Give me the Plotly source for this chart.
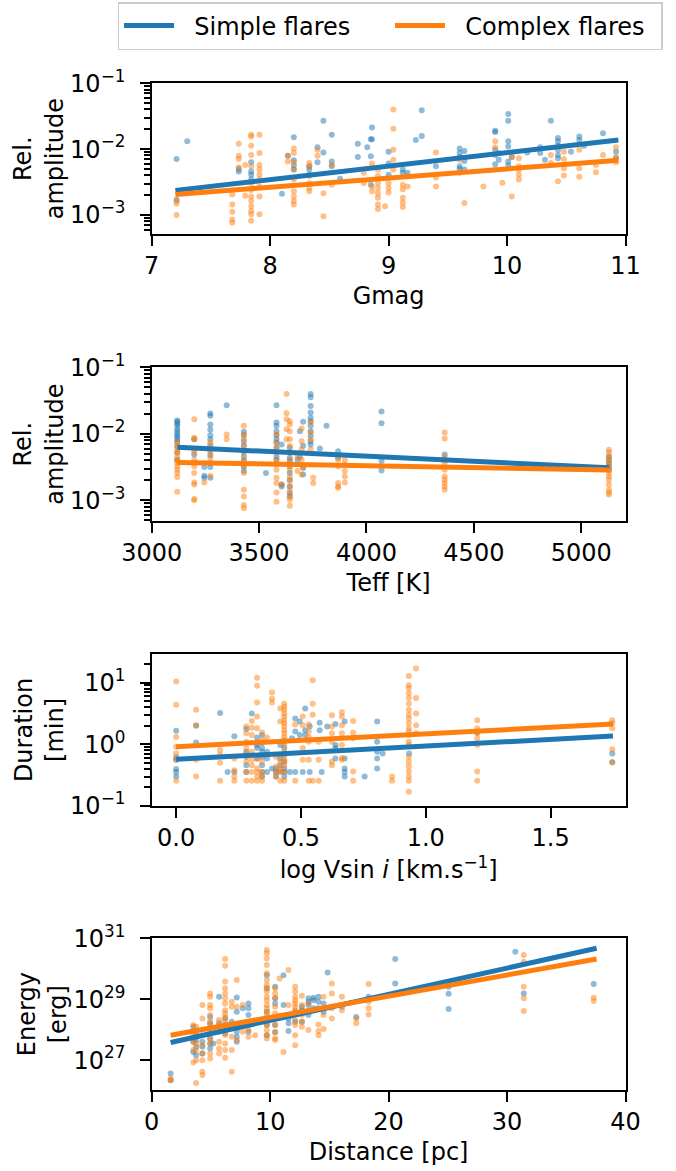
import plotly.graph_objects as go

# ---------------- DATA ----------------
# Panel 1: Gmag vs log10(relative amplitude)
simple_gmag_groups = [
    (7.21, [-2.15, -2.77]), (7.30, [-1.88]), (7.735, [-2.30, -2.34]),
    (7.84, [-2.20, -2.34, -2.39, -2.46]), (8.10, [-2.68]), (8.15, [-2.10]),
    (8.20, [-1.82, -2.17, -2.25, -2.31]), (8.33, [-2.26, -2.31, -2.39]),
    (8.40, [-1.97, -2.20]), (8.45, [-1.57, -2.05]), (8.52, [-1.78, -2.19, -2.26]),
    (8.59, [-2.45]), (8.74, [-1.92, -2.12]), (8.82, [-1.97]),
    (8.85, [-2.11, -1.85, -2.54]), (8.86, [-1.67, -1.85]), (9.0, [-2.04, -2.22, -2.39]),
    (9.12, [-2.31, -2.36]), (9.16, [-2.36]), (9.23, [-1.86]), (9.28, [-1.41, -1.80]),
    (9.40, [-2.26]), (9.60, [-1.99, -2.06, -2.12, -2.26, -2.30]),
    (9.64, [-2.03, -2.18, -2.31]), (9.90, [-1.72, -1.74, -2.01, -2.09, -2.23]),
    (9.93, [-2.06, -2.16]), (10.01, [-1.465, -1.57, -1.88, -1.96, -2.19, -2.25]),
    (10.04, [-2.12]), (10.17, [-2.05]), (10.28, [-1.97, -2.06]), (10.32, [-2.16]),
    (10.37, [-1.57]), (10.43, [-1.83, -1.88, -1.95, -2.01, -2.09, -2.14]),
    (10.54, [-2.04]), (10.61, [-1.81, -1.86]), (10.65, [-1.95]), (10.81, [-1.76]),
    (10.92, [-2.04, -2.14]),
]
complex_gmag_groups = [
    (7.21, [-2.79, -2.83, -3.00]), (7.68, [-2.69, -2.84, -2.95, -3.07, -3.12]),
    (7.735, [-1.92, -2.10, -2.15, -2.28]), (7.79, [-2.24, -2.71]),
    (7.84, [-1.78, -1.81, -1.95, -2.09, -2.26, -2.52, -2.62, -2.72, -2.79, -2.87, -2.94, -2.99, -3.09]),
    (7.91, [-1.78, -2.06, -2.24, -2.31, -2.39, -2.46, -2.57, -2.72, -2.99]),
    (8.15, [-2.10, -2.19]),
    (8.20, [-1.99, -2.06, -2.20, -2.31, -2.46, -2.64, -2.72, -2.79, -2.84]),
    (8.33, [-2.21, -2.26, -2.41, -2.52, -2.59, -2.64]), (8.40, [-2.01, -2.10]),
    (8.45, [-2.67, -3.02]), (8.52, [-2.24, -2.54]), (8.79, [-2.36, -2.52]),
    (8.86, [-2.22, -2.57, -2.64]),
    (8.91, [-2.31, -2.41, -2.52, -2.59, -2.67, -2.74, -2.84, -2.91]),
    (8.97, [-2.87]), (9.0, [-2.52, -2.59, -2.66]),
    (9.04, [-1.40, -1.69, -2.01, -2.16, -2.31]),
    (9.12, [-2.54, -2.61, -2.74, -2.81, -2.88]), (9.16, [-2.41, -2.57]),
    (9.40, [-2.05, -2.43, -2.57]), (9.60, [-2.16, -2.36]), (9.64, [-2.82]),
    (9.80, [-2.57]), (9.90, [-1.88, -1.97, -2.31]), (9.96, [-2.51]),
    (10.04, [-2.72, -2.12]), (10.10, [-2.14, -2.26, -2.31, -2.39, -2.46]),
    (10.37, [-2.09, -2.21]), (10.43, [-2.49]), (10.48, [-2.04, -2.15, -2.29, -2.40]),
    (10.61, [-2.01, -2.29, -2.42]), (10.75, [-2.24, -2.35]), (10.81, [-2.09]),
    (10.92, [-1.97, -2.12, -2.20]),
]
gmag_fit_x = [7.2, 10.94]
simple_gmag_fit = [2.36e-3, 1.38e-2]
complex_gmag_fit = [2.04e-3, 6.76e-3]

# Panel 2: Teff vs log10(relative amplitude)
simple_teff_groups = [
    (3119, [-1.80, -1.82, -1.85, -1.88, -1.93, -1.97, -2.01, -2.04, -2.08, -2.12, -2.19, -2.28, -2.39]),
    (3198, [-2.08, -2.31]), (3245, [-2.50, -2.63, -2.66]),
    (3273, [-1.695, -1.73, -1.86, -1.94, -2.02, -2.08, -2.17, -2.24, -2.32, -2.44, -2.50, -2.66]),
    (3349, [-1.57]),
    (3429, [-1.97, -2.02, -2.11, -2.18, -2.26, -2.34, -2.41, -2.49, -2.56]),
    (3532, [-2.59]),
    (3581, [-1.57, -1.83, -1.88, -1.96, -2.02, -2.08, -2.13, -2.21, -2.34, -2.39]),
    (3605, [-2.16, -2.76, -2.79]),
    (3643, [-2.21, -2.28, -2.36, -2.41, -2.49, -2.59, -2.69, -2.79, -2.89, -2.94]),
    (3679, [-2.39]), (3690, [-1.96, -2.35]), (3705, [-1.82, -2.18, -2.51, -2.61]),
    (3740, [-1.40, -1.45, -1.58, -1.68, -1.76, -1.81, -1.88, -1.96, -2.03, -2.11, -2.16]),
    (3783, [-2.22]), (3814, [-1.88]), (3868, [-2.26, -2.36]),
    (4070, [-1.665, -1.84, -2.41, -2.55]), (4364, [-2.31, -2.39]),
    (5129, [-2.34, -2.39, -2.44, -2.49, -2.54]),
]
complex_teff_groups = [
    (3119, [-2.13, -2.18, -2.23, -2.28, -2.34, -2.39, -2.41, -2.44, -2.49, -2.54, -2.59, -2.65, -2.87]),
    (3198, [-1.78, -2.06, -2.08, -2.23, -2.28, -2.39, -2.44, -2.49, -2.59, -2.73, -2.76, -2.98, -3.00]),
    (3245, [-2.73]), (3273, [-2.13, -2.21, -2.28, -2.36, -2.63]), (3349, [-2.01, -2.08]),
    (3429, [-1.88, -2.01, -2.08, -2.18, -2.28, -2.39, -2.49, -2.59, -2.84, -2.94, -3.07, -3.12]),
    (3581, [-2.01, -2.13, -2.21, -2.28, -2.39, -2.46, -2.54, -2.66, -2.74, -2.88, -3.02]),
    (3605, [-2.76]), (3628, [-1.40, -1.69, -1.78, -1.93, -2.08]),
    (3643, [-1.81, -1.86, -1.96, -2.08, -2.18, -2.28, -2.39, -2.46, -2.54, -2.64, -2.71, -2.79, -2.86, -2.94, -2.99, -3.08]),
    (3679, [-2.34, -2.56]), (3698, [-1.92, -2.11, -2.23, -2.39, -2.61]), (3705, [-2.51]),
    (3740, [-1.83, -1.98, -2.08, -2.23]), (3752, [-2.66, -2.74]),
    (3868, [-2.39, -2.49, -2.74, -2.79, -2.81]), (3899, [-2.39, -2.46, -2.56, -2.64, -2.73]),
    (4364, [-1.98, -2.07, -2.34, -2.44, -2.54, -2.64, -2.69, -2.74, -2.79, -2.84]),
    (5129, [-2.24, -2.28, -2.34, -2.39, -2.44, -2.49, -2.54, -2.59, -2.64, -2.69, -2.76, -2.84, -2.88, -2.91]),
]
teff_fit_x = [3120, 5130]
simple_teff_fit = [6.3e-3, 3.08e-3]
complex_teff_fit = [3.72e-3, 2.85e-3]

# Panel 3: log Vsin i vs log10(duration [min])
simple_vsini_groups = [
    (0.0, [0.22, -0.21, -0.25, -0.40, -0.45, -0.52]), (0.08, [0.30, 0.03]), (0.176, [0.51]),
    (0.206, [-0.45]), (0.233, [0.13, -0.45]), (0.281, [0.25, -0.12, -0.20, -0.34, -0.45]),
    (0.303, [0.50]), (0.324, [0.11, -0.01, -0.06, -0.23]),
    (0.344, [0.15, 0.03, -0.06, -0.12, -0.20, -0.34, -0.45, -0.52]),
    (0.364, [-0.12, -0.23, -0.45]), (0.384, [-0.39]), (0.40, [-0.39, -0.45, -0.52]),
    (0.417, [-0.01, -0.23, -0.34, -0.44]),
    (0.433, [0.04, -0.06, -0.17, -0.28, -0.39, -0.45, -0.52]), (0.455, [-0.45]),
    (0.464, [0.10]), (0.477, [0.42, 0.21, -0.45]), (0.495, [0.37, 0.15]), (0.507, [-0.45]),
    (0.517, [0.58, 0.23, 0.15]), (0.535, [0.29, -0.45]), (0.575, [0.35, 0.23]),
    (0.583, [-0.45]), (0.605, [0.29]), (0.638, [0.33, -0.01, -0.06, -0.23]),
    (0.675, [0.37, -0.23, -0.39, -0.45, -0.52]), (0.755, [-0.52]),
    (0.805, [0.37, 0.04, -0.12, -0.23, -0.39]), (0.827, [-0.15]), (0.933, [-0.15]),
    (1.206, [0.19]), (1.747, [-0.15, -0.29]),
]
complex_vsini_groups = [
    (0.0, [1.02, 0.64, 0.12, -0.04, -0.15, -0.25, -0.59]), (0.08, [0.56, 0.31, -0.25, -0.52]),
    (0.176, [-0.09, -0.17, -0.30, -0.59]), (0.233, [-0.23, -0.42, -0.52, -0.59]),
    (0.281, [0.29, 0.18, 0.04, -0.06, -0.15, -0.28, -0.45, -0.59]),
    (0.303, [0.38, 0.27, 0.15, -0.12, -0.25, -0.34, -0.45, -0.59]),
    (0.324, [1.08, 0.95, 0.68, 0.45, 0.26, 0.04, -0.23, -0.39, -0.45, -0.52, -0.59]),
    (0.344, [0.19, 0.07, -0.28, -0.45, -0.52, -0.59]), (0.364, [0.11, -0.17]),
    (0.384, [0.84, 0.74, 0.68]), (0.40, [-0.20, -0.36, -0.45, -0.52]),
    (0.417, [0.58, 0.37, -0.17, -0.28, -0.39, -0.45, -0.59]),
    (0.433, [0.66, 0.61, 0.56, 0.50, 0.45, 0.39, 0.34, 0.29, 0.23, 0.18, 0.12, 0.07, -0.01,
             -0.12, -0.23, -0.28, -0.34, -0.45, -0.59]),
    (0.477, [0.32, -0.59]), (0.507, [0.45, 0.31, -0.06, -0.25]),
    (0.531, [0.32, 0.21, 0.12, 0.04, -0.25, -0.59]), (0.547, [1.04, 0.66, 0.48, -0.59]),
    (0.571, [0.04, -0.25, -0.59]), (0.624, [0.47, 0.29, 0.18, 0.04, -0.28, -0.34]),
    (0.664, [0.52, 0.45, 0.31, 0.18, -0.01, -0.22, -0.25]),
    (0.709, [0.38, 0.19, 0.10, -0.44, -0.59]), (0.865, [-0.52, -0.59]),
    (0.932, [1.11, 0.96, 0.91, 0.83, 0.75, 0.66, 0.56, 0.48, 0.42, 0.34, 0.26, 0.21, 0.15,
             0.04, -0.01, -0.20, -0.28, -0.36, -0.44, -0.52, -0.59, -0.77]),
    (0.961, [1.23, 0.75, 0.50, 0.31, 0.18]),
    (1.206, [0.39, 0.26, 0.18, 0.10, -0.01, -0.44, -0.59]),
    (1.747, [0.39, 0.34, 0.26, -0.08, -0.29]),
]
vsini_fit_x = [0.0, 1.75]
simple_vsini_fit = [0.571, 1.36]
complex_vsini_fit = [0.914, 2.13]

# Panel 4: distance [pc] vs log10(energy [erg])
simple_dist_groups = [
    (1.6, [26.56, 26.34]), (3.52, [28.10, 27.60, 27.27]), (3.75, [27.82, 27.66, 27.44, 27.16]),
    (4.28, [27.60, 27.44, 27.22]), (4.93, [28.42, 28.21, 28.04, 27.71, 27.55, 27.38]),
    (5.2, [27.55]), (5.69, [29.08, 28.21]), (6.2, [28.37, 28.15, 27.99, 27.88]), (6.76, [28.26]),
    (7.18, [29.06, 28.59, 28.15, 27.93, 27.77, 27.60]), (7.69, [28.70]),
    (8.17, [28.86, 28.70, 28.48, 27.93]), (9.72, [29.79, 29.36, 28.59, 28.15, 27.82]),
    (10.42, [29.41, 29.03, 28.86, 28.15, 27.91]), (11.13, [29.79, 28.81]),
    (11.55, [28.37, 28.21, 27.96]), (12.11, [28.59, 28.26]), (12.68, [28.75, 28.64, 28.26]),
    (13.24, [29.03, 28.92, 28.81, 28.48]), (13.66, [29.05, 28.97, 28.70]),
    (14.08, [29.08, 28.92, 28.70]), (14.51, [28.86, 28.59]), (14.85, [29.88]),
    (16.06, [28.75]), (17.27, [28.42]), (18.31, [29.08]), (20.56, [30.32, 29.52]),
    (25.07, [29.41, 29.18, 28.68]), (30.7, [30.56]), (31.41, [29.19]), (37.32, [29.50]),
]
complex_dist_groups = [
    (1.6, [26.40, 26.34]), (3.52, [28.15, 27.99, 27.82, 27.60, 27.33, 26.92]),
    (3.75, [28.10, 27.93, 27.55, 27.33, 27.00, 26.25]),
    (4.28, [28.81, 28.37, 27.82, 27.49, 27.22, 27.00, 26.62, 26.51]),
    (4.93, [29.19, 29.08, 28.81, 28.70, 28.48, 28.26, 28.15, 27.93, 27.71, 27.55, 27.22, 27.05]),
    (5.69, [28.32, 28.15, 27.93, 27.60, 27.38, 27.22]),
    (6.2, [30.32, 30.10, 29.58, 29.36, 29.19, 29.03, 28.86, 28.64, 28.53, 28.42, 28.26, 28.04,
           27.82, 27.55, 27.33, 27.08]),
    (6.76, [28.92, 28.75, 27.77, 27.33, 26.62]), (7.18, [29.63, 28.75, 27.66]),
    (7.69, [28.81, 27.93]), (8.17, [28.15, 27.99, 27.77]), (8.73, [27.82]),
    (9.72, [30.62, 30.51, 30.34, 30.12, 29.85, 29.63, 29.47, 29.36, 29.25, 29.08, 28.97, 28.81,
            28.70, 28.59, 28.48, 28.37, 28.26, 28.15, 27.99, 27.82, 27.71]),
    (10.42, [29.36, 29.19, 29.03, 28.75, 28.53, 28.15, 27.93, 27.71, 27.66]), (10.8, [29.68]),
    (11.13, [27.27]), (11.55, [29.96, 28.81, 28.48]),
    (12.11, [29.41, 29.25, 29.08, 28.97, 28.86, 28.75, 28.64, 28.53, 28.32, 28.15, 27.82, 27.49]),
    (12.68, [29.11, 28.81, 28.48, 28.26, 28.10]), (13.24, [28.86, 27.99]),
    (14.08, [28.17, 27.96, 27.82]), (14.51, [29.08, 28.48, 28.02]),
    (15.21, [29.52, 29.19, 28.70, 28.37]), (16.06, [29.08, 28.64]), (17.27, [28.37, 28.21]),
    (18.31, [29.50, 28.92, 28.70, 28.50]), (31.41, [30.45, 30.23, 29.41, 29.03, 28.61]),
    (37.32, [29.05, 28.94]),
]
dist_fit_x = [1.6, 37.56]
simple_dist_fit = [3.8e27, 4.7e30]
complex_dist_fit = [6.6e27, 2.1e30]

SERIES_NAMES = ["Simple flares", "Complex flares"]
BLUE = "#1f77b4"
ORANGE = "#ff7f0e"
FONT = "DejaVu Sans"
FS = 24

# ---------------- FIGURE ----------------
W, H = 676, 1171
def fx(p):
    return p / W
def fy(p):
    return 1 - p / H

x_dom = [fx(151.7), fx(625.5)]
panel_px = [(83.3, 234), (367.3, 521), (654, 806), (938.3, 1090)]

def flatten(groups, logy=True):
    xs, ys = [], []
    for x, vals in groups:
        for v in vals:
            xs.append(x)
            ys.append(10 ** v if logy else v)
    return xs, ys

panels = [
    (simple_gmag_groups, complex_gmag_groups, gmag_fit_x, simple_gmag_fit, complex_gmag_fit),
    (simple_teff_groups, complex_teff_groups, teff_fit_x, simple_teff_fit, complex_teff_fit),
    (simple_vsini_groups, complex_vsini_groups, vsini_fit_x, simple_vsini_fit, complex_vsini_fit),
    (simple_dist_groups, complex_dist_groups, dist_fit_x, simple_dist_fit, complex_dist_fit),
]

fig = go.Figure()
for i, (sg, cg, fitx, sfit, cfit) in enumerate(panels):
    xa = "x" if i == 0 else f"x{i+1}"
    ya = "y" if i == 0 else f"y{i+1}"
    for groups, col in ((sg, BLUE), (cg, ORANGE)):
        xs, ys = flatten(groups)
        fig.add_trace(go.Scatter(x=xs, y=ys, mode="markers", xaxis=xa, yaxis=ya,
                                 marker=dict(color=col, size=6, opacity=0.5, line=dict(width=0)),
                                 showlegend=False, hoverinfo="skip"))
    for fit, col, name in ((sfit, BLUE, SERIES_NAMES[0]), (cfit, ORANGE, SERIES_NAMES[1])):
        fig.add_trace(go.Scatter(x=fitx, y=fit, mode="lines", xaxis=xa, yaxis=ya,
                                 line=dict(color=col, width=5), name="\u00a0\u00a0" + name,
                                 showlegend=(i == 0)))

def sup(n):
    s = str(n).replace("-", "\u2212")
    return f"10<sup>{s}</sup>"

def minor_vals(lo, hi):
    vals = []
    for d in range(lo, hi + 1):
        for m in range(2, 10):
            vals.append(m * 10 ** d)
    return vals

MINOR = dict(ticks="outside", ticklen=5.5, tickwidth=1.5, tickcolor="black", showgrid=False)

axis_common = dict(showline=True, linecolor="black", linewidth=2, mirror=True,
                   ticks="outside", ticklen=9.5, tickwidth=2, tickcolor="black",
                   showgrid=False, zeroline=False,
                   tickfont=dict(family=FONT, size=FS, color="black"),
                   title_font=dict(family=FONT, size=FS, color="black"))

x_specs = [
    dict(range=[7, 11], tickvals=[7, 8, 9, 10, 11], title_text="Gmag"),
    dict(range=[3000, 5206], tickvals=[3000, 3500, 4000, 4500, 5000], title_text="Teff [K]"),
    dict(range=[-0.098, 1.80], tickvals=[0.0, 0.5, 1.0, 1.5], ticktext=["0.0", "0.5", "1.0", "1.5"],
         title_text="log Vsin <i>i</i> [km.s<sup>\u22121</sup>]"),
    dict(range=[0, 40], tickvals=[0, 10, 20, 30, 40], title_text="Distance [pc]"),
]
y_specs = [
    dict(range=[-3.29, -1.0], tickvals=[1e-3, 1e-2, 1e-1], ticktext=[sup(-3), sup(-2), sup(-1)],
         title_text="Rel.<br>amplitude", minor=dict(MINOR, tickvals=minor_vals(-4, -2))),
    dict(range=[-3.31, -1.0], tickvals=[1e-3, 1e-2, 1e-1], ticktext=[sup(-3), sup(-2), sup(-1)],
         title_text="Rel.<br>amplitude", minor=dict(MINOR, tickvals=minor_vals(-4, -2))),
    dict(range=[-1.0, 1.465], tickvals=[0.1, 1, 10], ticktext=[sup(-1), sup(0), sup(1)],
         title_text="Duration<br>[min]", minor=dict(MINOR, tickvals=minor_vals(-1, 1))),
    dict(range=[26.02, 31.0], tickvals=[1e27, 1e29, 1e31], ticktext=[sup(27), sup(29), sup(31)],
         title_text="Energy<br>[erg]"),
]

for i in range(4):
    top, bot = panel_px[i]
    xkey = "xaxis" if i == 0 else f"xaxis{i+1}"
    ykey = "yaxis" if i == 0 else f"yaxis{i+1}"
    xname = "x" if i == 0 else f"x{i+1}"
    yname = "y" if i == 0 else f"y{i+1}"
    xs = dict(axis_common)
    xs.update(x_specs[i])
    xs.update(domain=x_dom, anchor=yname, title_standoff=8, ticklabelstandoff=0,
              automargin=False)
    ys = dict(axis_common)
    ys.update(y_specs[i])
    ys.update(type="log", domain=[fy(bot), fy(top)], anchor=xname, title_standoff=0,
              ticklabelstandoff=10, automargin=False)
    fig.update_layout({xkey: xs, ykey: ys})

fig.update_layout(
    width=W, height=H,
    margin=dict(l=0, r=0, t=0, b=0, autoexpand=False),
    paper_bgcolor="white", plot_bgcolor="white",
    font=dict(family=FONT, size=FS, color="black"),
    legend=dict(orientation="h", x=fx(390), xanchor="center", y=fy(2), yanchor="top",
                bordercolor="#cccccc", borderwidth=1.5, bgcolor="white",
                font=dict(family=FONT, size=FS, color="black"),
                itemwidth=50, entrywidth=206, tracegroupgap=0),
)

fig.write_html("out.html", config={"displayModeBar": False},
               post_script="document.body.style.margin='0';document.body.style.padding='0';")
